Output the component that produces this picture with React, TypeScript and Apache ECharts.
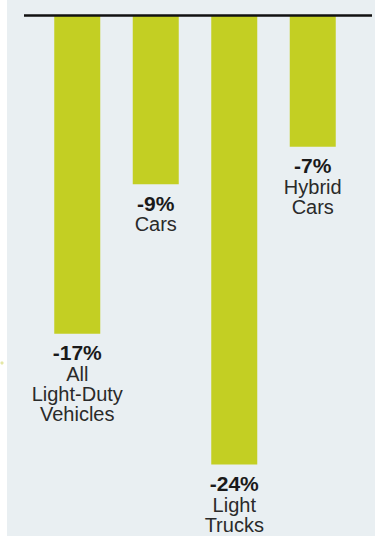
import React, { useEffect, useRef } from "react";
import * as echarts from "echarts";

const categories = ["All Light-Duty Vehicles", "Cars", "Light Trucks", "Hybrid Cars"];
const nameLines = [["All", "Light-Duty", "Vehicles"], ["Cars"], ["Light", "Trucks"], ["Hybrid", "Cars"]];
const values = [-17, -9, -24, -7];

export default function App() {
  const ref = useRef<HTMLDivElement>(null);
  useEffect(() => {
    if (!ref.current) return;
    const chart = echarts.init(ref.current, null, { renderer: "svg" });
    chart.setOption({
      animation: false,
      backgroundColor: "transparent",
      grid: { left: 38, right: 23, top: 16, bottom: 71.5 },
      xAxis: {
        type: "category",
        data: categories,
        position: "top",
        axisLine: { show: false },
        axisTick: { show: false },
        axisLabel: { show: false },
      },
      yAxis: {
        type: "value",
        min: -24,
        max: 0,
        show: false,
        splitLine: { show: false },
      },
      graphic: [
        { type: "rect", z: -10, shape: { x: 7, y: 0, width: 368, height: 536 }, style: { fill: "#e9eff2" } },
        { type: "circle", z: -5, shape: { cx: 2, cy: 363, r: 1.6 }, style: { fill: "#e4e7a6" } },
        { type: "line", z: 100, shape: { x1: 24, y1: 15.5, x2: 372, y2: 15.5 }, style: { stroke: "#111", lineWidth: 2.5 } },
      ],
      series: [
        {
          type: "bar",
          data: values,
          barWidth: 46,
          itemStyle: { color: "#c3cf23" },
          label: {
            show: true,
            position: "bottom",
            distance: 8,
            align: "center",
            formatter: (p: any) => {
              const lines = nameLines[p.dataIndex].map((l) => `{n|${l}}`).join("\n");
              return `{v|${values[p.dataIndex]}%}\n${lines}`;
            },
            rich: {
              v: { fontFamily: "Liberation Sans, Arial, sans-serif", fontSize: 21, fontWeight: "bold", color: "#1a1a1a", lineHeight: 22, align: "center" },
              n: { fontFamily: "Liberation Sans, Arial, sans-serif", fontSize: 20, color: "#2a2a2a", lineHeight: 20, align: "center" },
            },
          },
        },
      ],
    });
    return () => chart.dispose();
  }, []);
  return <div ref={ref} style={{ position: "absolute", left: 0, top: 0, width: 375, height: 536 }} />;
}
